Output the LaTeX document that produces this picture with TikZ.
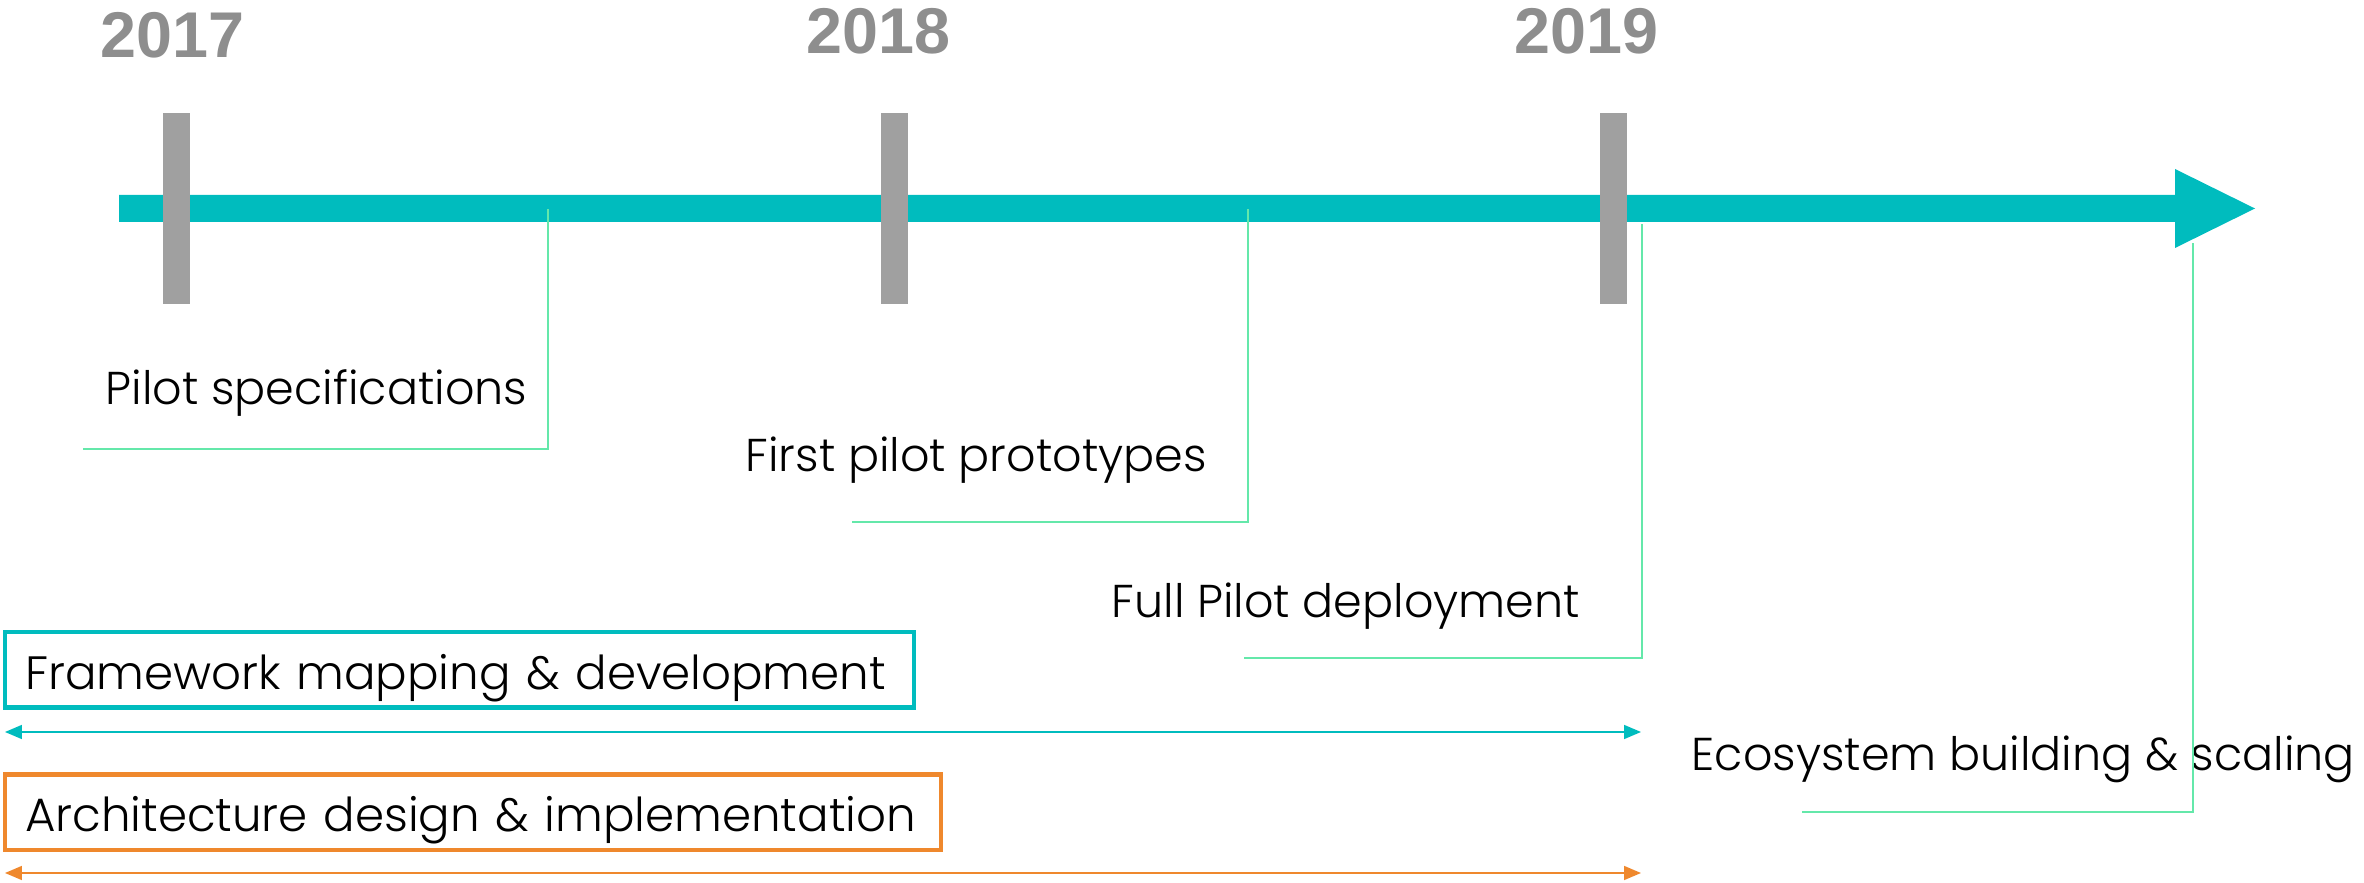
\documentclass[tikz,border=0pt]{standalone}
\usepackage{fontspec}
\setmainfont{Poppins Light}
\newfontfamily\yearfont{Liberation Sans}
\usetikzlibrary{arrows.meta}
\definecolor{axisteal}{RGB}{0,188,190}
\definecolor{archorange}{RGB}{239,136,45}
\definecolor{tickgray}{RGB}{160,160,160}
\definecolor{yeargray}{RGB}{142,142,142}
\definecolor{leadgreen}{RGB}{100,232,170}
\begin{document}
\begin{tikzpicture}[x=0.1mm,y=-0.1mm,
   yrtick/.style={fill=tickgray,minimum width=2.7mm,minimum height=19.1mm,inner sep=0},
   yr/.style={anchor=base west,inner sep=0,text=yeargray,font=\yearfont\bfseries\fontsize{18.4}{22}\selectfont},
   lbl/.style={anchor=base west,inner sep=0,font=\fontsize{13.1}{15}\selectfont},
   leader/.style={draw=leadgreen,line width=0.2mm},
   phasespan/.style={line width=0.16mm,{Triangle[length=1.7mm,width=1.4mm]}-{Triangle[length=1.7mm,width=1.4mm]}},
   phase/.style={draw=#1,line width=0.45mm,anchor=west,inner xsep=1.98mm,inner ysep=0,outer sep=0,text height=5.675mm,text depth=1.875mm,align=left,font=\fontsize{13.3}{15}\selectfont}]
\useasboundingbox (0,0) rectangle (2364,883);
\fill[axisteal] (119,195) -- (2175,195) -- (2175,169) -- (2255,208.5) -- (2175,248) -- (2175,222) -- (119,222) -- cycle;
\foreach \yr/\yx/\yy/\kx in %
{2017/100/58/176.5,2018/806/54/894.5,2019/1514/54/1613.5} {
   \node[yrtick] (k\yr) at (\kx,208.5) {};
   \node[yr] (y\yr) at (\yx,\yy) {\yr};
}
\foreach \nm/\txt/\tx/\ty/\ax/\ay/\bx/\by in %
{spec/Pilot specifications/105/405/548/209/83/449,
 proto/First pilot prototypes/745/472/1248/209/852/522,
 deploy/Full Pilot deployment/1111/618/1642/224/1244/658,
 eco/Ecosystem building \& scaling/1691/770/2193/243/1802/812} {
   \node[lbl] (\nm) at (\tx,\ty) {\txt};
   \coordinate (\nm top) at (\ax,\ay);
   \coordinate (\nm end) at (\bx,\by);
   \draw[leader] (\nm top) |- (\nm end);
}
\node[phase=axisteal,text width=86.9mm] (fw) at (5.25,670) {Framework mapping \& development};
\node[phase=archorange,text width=89.6mm] (arch) at (5.25,812) {Architecture design \& implementation};
\coordinate (fwL) at (5,732);
\coordinate (fwR) at (1641,732);
\coordinate (archL) at (5,873);
\coordinate (archR) at (1641,873);
\draw[phasespan,axisteal] (fwL) -- (fwR);
\draw[phasespan,archorange] (archL) -- (archR);
\end{tikzpicture}
\end{document}
